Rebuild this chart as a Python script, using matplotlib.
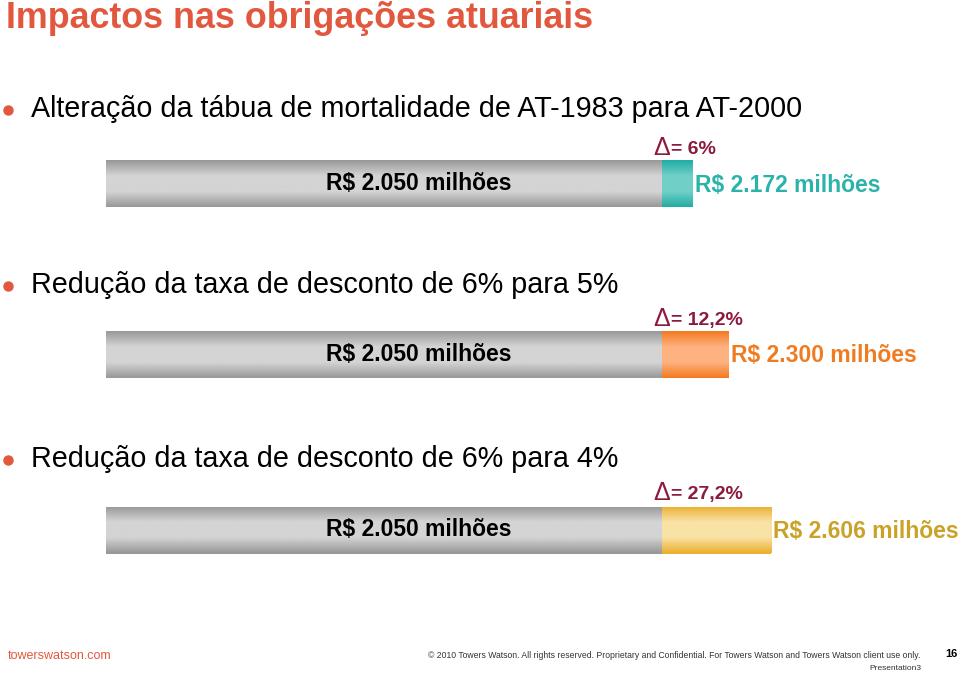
# slide "impactos nas obrigacoes atuariais" - bars of the actuarial obligations
# gray base bar + coloured increment for each scenario

import numpy as np
import matplotlib.pyplot as plt
from matplotlib.colors import LinearSegmentedColormap

cenarios = ["Alteração da tábua de mortalidade de AT-1983 para AT-2000",
            "Redução da taxa de desconto de 6% para 5%",
            "Redução da taxa de desconto de 6% para 4%"]
base = 2050                       # R$ milhoes, same for all three
novo = [2172, 2300, 2606]         # R$ milhoes after the change
delta_txt = ["6%", "12,2%", "27,2%"]
# the slide draws the last bar shorter than to scale, these are the ends
fim_desenhado = [2164, 2297, 2452]

# colours (edge, middle) of each increment + text colour
cores = [("#22ada3", "#70d0c8", "#2bb3aa"),
         ("#f47a20", "#fdb280", "#f07c22"),
         ("#ebb02f", "#f9e2a6", "#c9a227")]
cinza = ("#989898", "#d4d4d4")
vermelho = "#e2583e"
bordo = "#8c1a3c"

plt.rcParams['font.family'] = ['Liberation Sans', 'DejaVu Sans']

fig = plt.figure(figsize=(9.6, 6.74), dpi=100)

# text layer in pixel coords
tx = fig.add_axes([0, 0, 1, 1])
tx.set_xlim(0, 960); tx.set_ylim(674, 0); tx.axis("off")

# bar layer, x in R$ milhoes, y in pixels.  0 sits at pixel 106, 2050 at pixel 662
s = base / 556.0
ax = fig.add_axes([0, 0, 1, 1])
ax.set_xlim(-106 * s, (960 - 106) * s)
ax.set_ylim(674, 0)
ax.axis("off")
ax.patch.set_alpha(0)

linhas_y = [183.5, 354.5, 530]   # bar centres in px
alt = 47
bullet_y = [109, 285, 459]
delta_y = [148, 319, 493]


def barra_grad(x0, x1, yc, c_borda, c_meio):
    cm = LinearSegmentedColormap.from_list("g", [c_borda, c_meio, c_meio, c_borda],)
    r = ax.barh(yc, x1 - x0, left=x0, height=alt, color=c_borda, linewidth=0)[0]
    g = np.linspace(0, 1, 100).reshape(-1, 1)
    im = ax.imshow(g, cmap=cm, extent=(x0, x1, yc + alt / 2, yc - alt / 2),
                   aspect="auto", interpolation="bilinear", zorder=r.get_zorder() + 0.1)
    im.set_clip_path(r)


for i in range(3):
    y = linhas_y[i]
    barra_grad(0, base, y, *cinza)
    barra_grad(base, fim_desenhado[i], y, cores[i][0], cores[i][1])
    ax.text(base * 0.563, y, f"R$ {base // 1000}.{base % 1000:03d} milhões",
            ha="center", va="center", fontsize=16.5, fontweight="bold", color="black", zorder=5)
    ax.text(fim_desenhado[i] + 6, y + 1.5,
            f"R$ {novo[i] // 1000}.{novo[i] % 1000:03d} milhões",
            ha="left", va="center", fontsize=16.5, fontweight="bold", color=cores[i][2], zorder=5)
    # delta label
    tx.text(653, delta_y[i], "Δ", ha="left", va="center", fontsize=18, color=bordo)
    tx.text(671, delta_y[i] + 1, "= " + delta_txt[i], ha="left", va="center",
            fontsize=14, fontweight="bold", color=bordo)
    # bullet
    tx.plot(8, bullet_y[i] + 1, "o", ms=6.5, color=vermelho)
    tx.text(31, bullet_y[i], cenarios[i], ha="left", va="center", fontsize=20.7, color="black")

tx.text(6, 19, "Impactos nas obrigações atuariais", ha="left", va="center",
        fontsize=25.8, fontweight="bold", color=vermelho)

# footer
tx.text(8, 656, "towerswatson.com", ha="left", va="center", fontsize=9, color=vermelho)
tx.text(920, 656, "© 2010 Towers Watson. All rights reserved. Proprietary and Confidential. "
        "For Towers Watson and Towers Watson client use only.",
        ha="right", va="center", fontsize=6.2, color="#333333")
tx.text(957, 654, "16", ha="right", va="center", fontsize=8, fontweight="bold", color="black")
tx.text(921, 669, "Presentation3", ha="right", va="center", fontsize=6, color="#333333")

fig.savefig("out.png", dpi=100)
